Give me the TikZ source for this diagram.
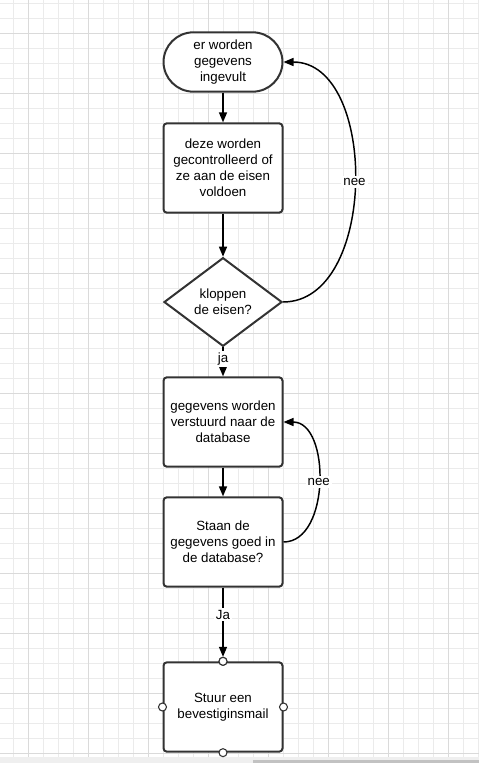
\documentclass[tikz,border=0pt]{standalone}
\usepackage{fontspec}
\setmainfont{Liberation Sans}
\usetikzlibrary{arrows.meta,shapes.geometric}
\definecolor{gridminor}{HTML}{EBEBEB}
\definecolor{gridmajor}{HTML}{DADADA}
\definecolor{border}{HTML}{333333}
\definecolor{bandgray}{HTML}{EFEFEF}
\definecolor{scrollgray}{HTML}{C2C2C2}
\begin{document}
\begin{tikzpicture}[x=0.75pt,y=-0.75pt,
  txt/.style={font=\fontsize{10pt}{12pt}\selectfont,text=black},
  box/.style={txt,draw=border,fill=white,line width=1.5pt,rounded corners=2.5pt,
    minimum width=89.25pt,minimum height=67pt,align=center,inner sep=0pt},
  terminal/.style={box,rounded corners=22.4pt,minimum height=44.5pt},
  decision/.style={txt,diamond,draw=border,fill=white,line width=1.5pt,
    minimum width=88.5pt,minimum height=66.5pt,align=center,inner sep=0pt},
  flow/.style={draw=black,line width=1.1pt,-{Triangle[length=7.5pt,width=6pt]}},
  lbl/.style={txt,fill=white,inner sep=1.5pt},
  port/.style={circle,draw=border,fill=white,line width=0.8pt,minimum size=6pt,inner sep=0pt}
]
\useasboundingbox (0,0) rectangle (479,763);
\fill[white] (0,0) rectangle (479,763);

% background grid: fine lines every 15px, heavier lines every 60px
\foreach \x in {13.3,28.3,...,479}
  \draw[gridminor,line width=0.75pt] (\x,0) -- (\x,757);
\foreach \y in {3.3,18.3,...,757}
  \draw[gridminor,line width=0.75pt] (0,\y) -- (479,\y);
\foreach \x in {28.3,88.3,...,479}
  \draw[gridmajor,line width=0.75pt] (\x,0) -- (\x,757);
\foreach \y in {33.3,93.3,...,757}
  \draw[gridmajor,line width=0.75pt] (0,\y) -- (479,\y);

% bottom strip with scroll bar
\fill[bandgray] (0,757) rectangle (479,763);
\fill[scrollgray] (253,760) rectangle (479,763);

% flowchart nodes
\node[terminal] (start) at (223,62) {er worden\\gegevens\\ingevult};
\node[box] (ctrl) at (223,168) {deze worden\\gecontrolleerd of\\ze aan de eisen\\voldoen};
\node[decision] (q) at (223,302) {kloppen\\de eisen?};
\node[box] (send) at (223,422) {gegevens worden\\verstuurd naar de\\database};
\node[box] (check) at (223,542) {Staan de\\gegevens goed in\\de database?};
\node[box] (mail) at (223,707) {Stuur een\\bevestiginsmail};

% connectors
\draw[flow] (start) -- (ctrl);
\draw[flow] (ctrl) -- (q);
\draw[flow] (q) -- node[lbl,pos=0.4] {ja} (send);
\draw[flow] (send) -- (check);
\draw[flow] (q.east) .. controls +(95,0) and +(95,0) .. (start.east)
  node[lbl,pos=0.5] {nee};
\draw[flow] (check.east) .. controls +(47,0) and +(47,0) .. (send.east)
  node[lbl,pos=0.5] {nee};

% connection points on the last step
\node[port] (pn) at (mail.north) {};
\node[port] (pw) at (mail.west) {};
\node[port] (pe) at (mail.east) {};
\node[port] (ps) at (mail.south) {};
\draw[flow] (check) -- node[lbl,pos=0.39] {Ja} (pn);
\node[port] at (mail.north) {};
\end{tikzpicture}
\end{document}
